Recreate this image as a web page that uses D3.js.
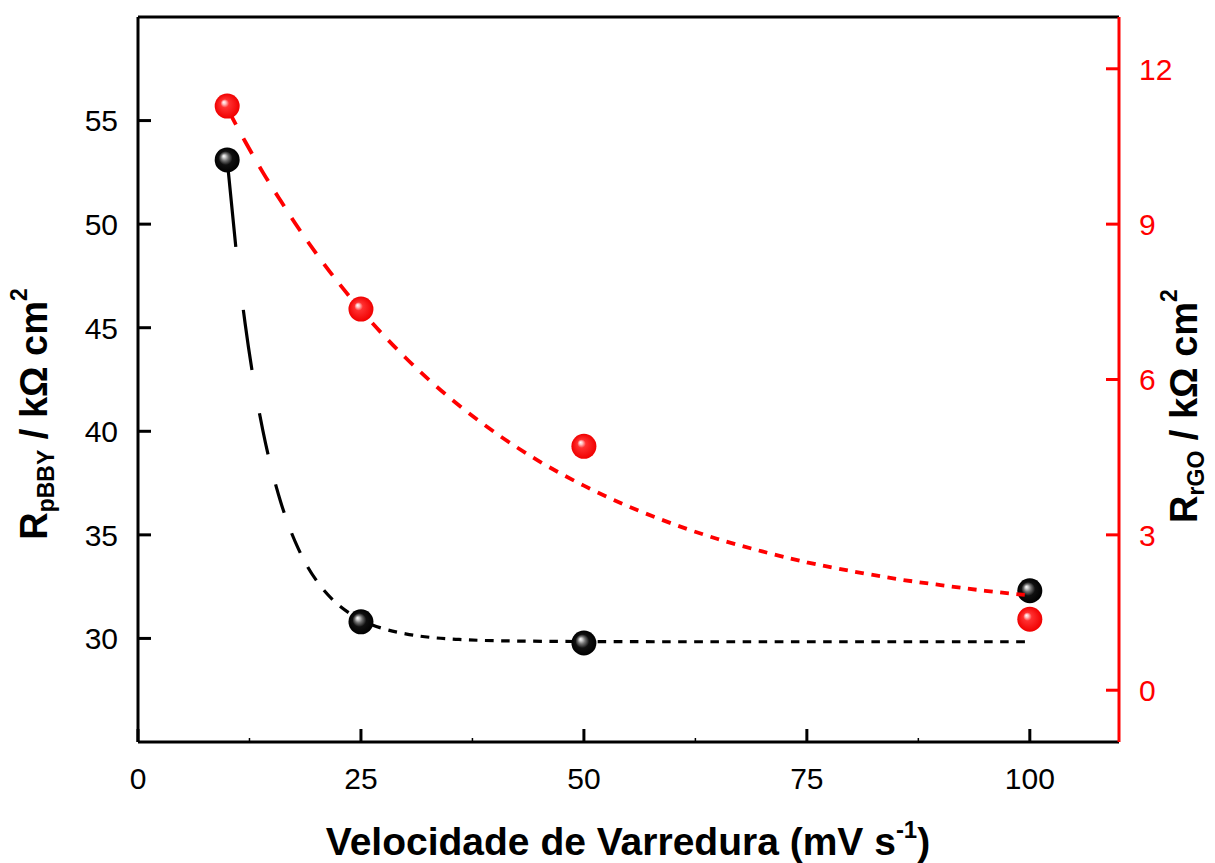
<!DOCTYPE html>
<html>
<head>
<meta charset="utf-8">
<script src="https://cdn.jsdelivr.net/npm/d3@7"></script>
<style>
  html, body { margin: 0; padding: 0; background: #fff; }
  svg { display: block; }
  text { font-family: "Liberation Sans", Arial, sans-serif; }
</style>
</head>
<body>
<svg id="chart" width="1215" height="863"></svg>
<script>
// scan rate (mV/s) and the two resistances
const scanRate = [10, 25, 50, 100];
const rPBBY = [53.1, 30.8, 29.78, 32.3];   // left axis, kOhm cm2
const rRGO = [11.28, 7.36, 4.71, 1.37];    // right axis, kOhm cm2

// fitted decay curves
const fitPBBYx = [10, 11, 12, 13, 14, 15, 16, 17, 18, 19, 20, 22, 24, 26, 28, 30, 33, 36, 40, 50, 60, 100];
const fitPBBYy = [53.1, 48.77, 45.24, 42.37, 40.04, 38.14, 36.59, 35.33, 34.31, 33.47, 32.8, 31.8, 31.14,
  30.7, 30.41, 30.22, 30.04, 29.95, 29.89, 29.85, 29.84, 29.84];
const fitRGOx = [10, 12, 14, 16, 18, 20, 25, 30, 35, 40, 45, 50, 55, 60, 65, 70, 75, 80, 85, 90, 95, 100];
const fitRGOy = [11.24, 10.6, 10.0, 9.45, 8.92, 8.43, 7.34, 6.42, 5.64, 4.98, 4.42, 3.95, 3.55, 3.21,
  2.92, 2.68, 2.47, 2.3, 2.15, 2.03, 1.92, 1.83];

const xTicks = [0, 25, 50, 75, 100];
const xMinor = [12.5, 37.5, 62.5, 87.5];
const yLeftTicks = [30, 35, 40, 45, 50, 55];
const yRightTicks = [0, 3, 6, 9, 12];

const L = 138, R = 1119, T = 17, B = 742;
const RED = "#ff0000";

const svg = d3.select("#chart");
const x = d3.scaleLinear().domain([0, 110]).range([L, R]);
const yL = d3.scaleLinear().domain([25, 60]).range([B, T]);
const yR = d3.scaleLinear().domain([-1, 13]).range([B, T]);

// ----- sphere gradients -----
const defs = svg.append("defs");
function sphere(id, stops) {
  const g = defs.append("radialGradient").attr("id", id)
    .attr("cx", "50%").attr("cy", "50%").attr("r", "50%").attr("fx", "36%").attr("fy", "34%");
  stops.forEach(([o, c]) => g.append("stop").attr("offset", o).attr("stop-color", c));
}
sphere("ballK", [["0%", "#ffffff"], ["12%", "#d0d0d0"], ["30%", "#707070"], ["55%", "#101010"], ["100%", "#000"]]);
sphere("ballR", [["0%", "#ffffff"], ["14%", "#ffc0c0"], ["34%", "#ff3030"], ["100%", "#f00000"]]);

// Origin-style dashes: on/off is decided by the x position, not by path length
function xDash(path, x0, period, on) {
  const node = path.node();
  const len = node.getTotalLength();
  const arr = [];
  let state = true, last = 0;
  for (let s = 0; s <= len; s += 0.25) {
    const p = node.getPointAtLength(s);
    const ph = (((p.x - x0) % period) + period) % period;
    const st = ph < on;
    if (st !== state) { arr.push(s - last); last = s; state = st; }
  }
  arr.push(len - last);
  if (arr.length % 2) arr.push(len);
  path.attr("stroke-dasharray", arr.map((v) => v.toFixed(2)).join(" "));
}

// ----- axes frame -----
const frame = svg.append("g").attr("stroke-width", 3).attr("fill", "none");
frame.append("line").attr("x1", L).attr("x2", R).attr("y1", T).attr("y2", T).attr("stroke", "#000");
frame.append("line").attr("x1", L).attr("x2", R).attr("y1", B).attr("y2", B).attr("stroke", "#000");
frame.append("line").attr("x1", L).attr("x2", L).attr("y1", T).attr("y2", B).attr("stroke", "#000");
frame.append("line").attr("x1", R).attr("x2", R).attr("y1", T).attr("y2", B).attr("stroke", RED);

// bottom ticks (inward)
const gx = svg.append("g");
gx.selectAll("line.maj").data(xTicks).join("line").attr("class", "maj")
  .attr("x1", (d) => x(d)).attr("x2", (d) => x(d)).attr("y1", B).attr("y2", B - 13)
  .attr("stroke", "#000").attr("stroke-width", 3);
gx.selectAll("line.min").data(xMinor).join("line").attr("class", "min")
  .attr("x1", (d) => x(d)).attr("x2", (d) => x(d)).attr("y1", B).attr("y2", B - 4)
  .attr("stroke", "#000").attr("stroke-width", 1.5);
gx.selectAll("text").data(xTicks).join("text")
  .attr("x", (d) => x(d)).attr("y", B + 47).attr("text-anchor", "middle")
  .attr("font-size", 30).text((d) => d);

// left ticks
const gl = svg.append("g");
gl.selectAll("line").data(yLeftTicks).join("line")
  .attr("x1", L).attr("x2", L + 13).attr("y1", (d) => yL(d)).attr("y2", (d) => yL(d))
  .attr("stroke", "#000").attr("stroke-width", 3);
gl.selectAll("text").data(yLeftTicks).join("text")
  .attr("x", L - 20).attr("y", (d) => yL(d)).attr("dy", "0.36em").attr("text-anchor", "end")
  .attr("font-size", 30).text((d) => d);

// right ticks (red)
const gr = svg.append("g");
gr.selectAll("line").data(yRightTicks).join("line")
  .attr("x1", R).attr("x2", R - 13).attr("y1", (d) => yR(d)).attr("y2", (d) => yR(d))
  .attr("stroke", RED).attr("stroke-width", 3);
gr.selectAll("text").data(yRightTicks).join("text")
  .attr("x", R + 20).attr("y", (d) => yR(d)).attr("dy", "0.36em").attr("text-anchor", "start")
  .attr("font-size", 30).attr("fill", RED).text((d) => d);

// ----- titles -----
const xt = svg.append("text").attr("x", 628).attr("y", 855).attr("text-anchor", "middle")
  .attr("font-size", 39).attr("font-weight", "bold");
xt.append("tspan").text("Velocidade de Varredura (mV s");
xt.append("tspan").attr("font-size", 24).attr("dy", -17).text("-1");
xt.append("tspan").attr("dy", 17).text(")");

function yTitle(px, py, sub) {
  const t = svg.append("text").attr("transform", `translate(${px},${py}) rotate(-90)`)
    .attr("text-anchor", "middle").attr("font-size", 38).attr("font-weight", "bold");
  t.append("tspan").text("R");
  t.append("tspan").attr("font-size", 23).attr("dy", 7).text(sub);
  t.append("tspan").attr("dy", -7).text(" / kΩ cm");
  t.append("tspan").attr("font-size", 23).attr("dy", -20).text("2");
}
yTitle(47, 414, "pBBY");
yTitle(1197, 406, "rGO");

// ----- fits + points -----
const lineK = d3.line().x((d, i) => x(fitPBBYx[i])).y((d) => yL(d)).curve(d3.curveMonotoneX);
const lineR = d3.line().x((d, i) => x(fitRGOx[i])).y((d) => yR(d)).curve(d3.curveMonotoneX);

const pathK = svg.append("path").attr("d", lineK(fitPBBYy)).attr("fill", "none")
  .attr("stroke", "#000").attr("stroke-width", 3.2);
xDash(pathK, x(10), 16.1, 8.6);

svg.append("g").selectAll("circle").data(rPBBY).join("circle")
  .attr("cx", (d, i) => x(scanRate[i])).attr("cy", (d) => yL(d)).attr("r", 12.5)
  .attr("fill", "url(#ballK)");

const pathR = svg.append("path").attr("d", lineR(fitRGOy)).attr("fill", "none")
  .attr("stroke", RED).attr("stroke-width", 3.8);
xDash(pathR, x(10), 16.1, 8.6);

svg.append("g").selectAll("circle").data(rRGO).join("circle")
  .attr("cx", (d, i) => x(scanRate[i])).attr("cy", (d) => yR(d)).attr("r", 12.5)
  .attr("fill", "url(#ballR)");
</script>
</body>
</html>
